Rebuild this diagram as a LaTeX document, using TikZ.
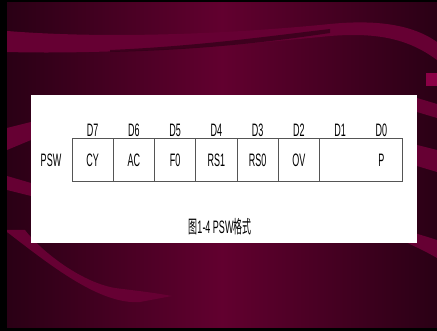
\documentclass[tikz,border=0pt]{standalone}
\usepackage{fontspec}
\setmainfont{Liberation Sans}
\newfontfamily\cjk{Noto Sans CJK SC}
\usetikzlibrary{positioning}
\definecolor{slidedark}{HTML}{2A0015}
\definecolor{slidemid}{HTML}{62002F}
\definecolor{swoosh}{HTML}{660033}
\definecolor{swooshdark}{HTML}{2E0016}
\definecolor{swooshbright}{HTML}{8A0045}
\definecolor{tabline}{HTML}{555555}

\begin{document}
\begin{tikzpicture}[x=1pt,y=-1pt]
 \tikzstyle{bitlbl}=[font=\fontsize{18}{18}\selectfont,xscale=0.5,inner sep=0pt]
 \tikzstyle{cellbox}=[font=\fontsize{18}{18}\selectfont,xscale=0.5,inner sep=0pt,
   minimum width=82.5pt,minimum height=42pt]
 \useasboundingbox (0,0) rectangle (437,331);
 % slide background
 \fill[black] (0,0) rectangle (437,331);
 \shade[left color=slidedark,right color=slidedark,middle color=slidemid]
   (7,3) rectangle (437,328);
 % swooshes
 \fill[swoosh] (7,31) .. controls (120,40) and (250,32) .. (330,24)
   .. controls (390,18) and (420,30) .. (437,42) -- (437,60)
   .. controls (410,40) and (380,32) .. (330,36)
   .. controls (250,44) and (120,55) .. (7,52) -- cycle;
 \fill[swooshdark,opacity=0.7] (110,50) .. controls (200,46) and (270,36) .. (330,29)
   -- (330,33) .. controls (270,42) and (200,50) .. (110,52) -- cycle;
 \fill[swoosh] (7,232) .. controls (50,265) and (100,305) .. (140,302)
   -- (172,296) .. controls (150,292) and (130,290) .. (115,288)
   .. controls (80,282) and (40,250) .. (25,230) -- (7,230) -- cycle;
 \fill[swoosh] (380,230) .. controls (400,240) and (420,248) .. (437,258)
   -- (437,240) .. controls (425,236) and (410,232) .. (400,228) -- cycle;
 \fill[swoosh] (7,128) -- (31,122) -- (31,140) -- (7,150) -- cycle;
 \fill[swoosh] (7,176) -- (31,183) -- (31,196) -- (7,190) -- cycle;
 \fill[swoosh] (417,98) -- (437,104) -- (437,118) -- (417,112) -- cycle;
 \fill[swoosh] (417,145) -- (437,150) -- (437,172) -- (417,166) -- cycle;
 \fill[swooshbright] (426,73) rectangle (437,86);
 % white panel
 \fill[white] (31,95) rectangle (417,243);
 % register row
 \node (psw) [bitlbl] at (51,160) {PSW};
 \foreach \t [count=\i] in {CY,AC,F0,RS1,RS0,OV,{},P}
   \node (c\i) [cellbox] at ({72+41.25*(\i-0.5)},160) {\t};
 \draw[tabline,thick] (c1.north west) rectangle (c8.south east);
 \foreach \i in {1,...,6}
   \draw[tabline,thick] (c\i.north east) -- (c\i.south east);
 \foreach \b [count=\i] in {7,6,5,4,3,2,1,0}
   \node (d\b) [bitlbl] at (c\i |- 0,130) {D\b};
 \node (cap) [bitlbl] at (220,227) {{\cjk 图}1-4 PSW{\cjk 格式}};
\end{tikzpicture}
\end{document}
